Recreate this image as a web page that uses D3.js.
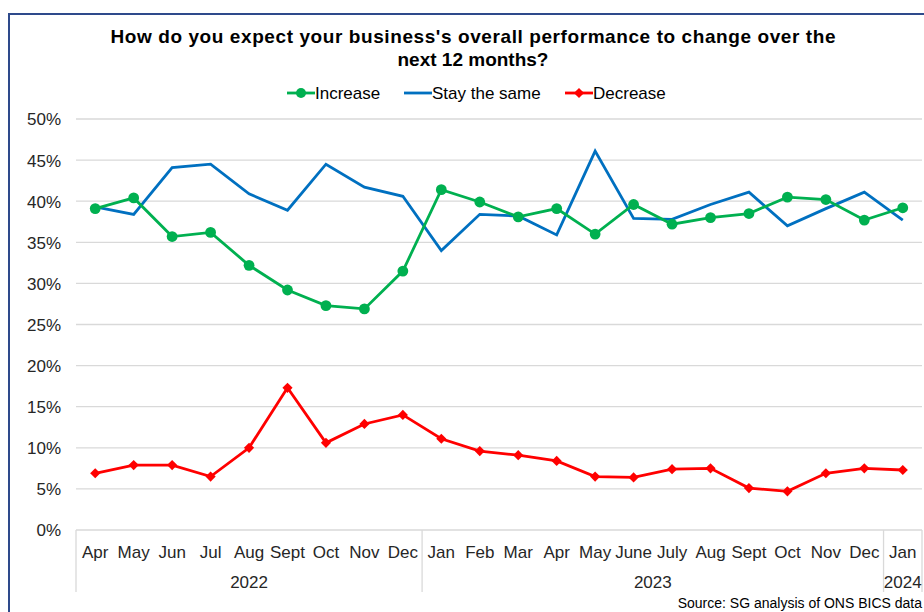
<!DOCTYPE html>
<html>
<head>
<meta charset="utf-8">
<script src="https://cdn.jsdelivr.net/npm/d3@7"></script>
<style>
  html, body { margin: 0; padding: 0; background: #fff; }
  svg { display: block; font-family: "Liberation Sans", Arial, sans-serif; }
</style>
</head>
<body>
<svg id="chart" width="924" height="612"></svg>
<script>
// Survey months (two-level axis: month within year)
const months = ["Apr","May","Jun","Jul","Aug","Sept","Oct","Nov","Dec",
                "Jan","Feb","Mar","Apr","May","June","July","Aug","Sept","Oct","Nov","Dec",
                "Jan"];
const years = [
  { label: "2022", start: 0, end: 9 },
  { label: "2023", start: 9, end: 21 },
  { label: "2024", start: 21, end: 22 }
];

// Share of businesses (%) by expectation
const increase = [39.1, 40.4, 35.7, 36.2, 32.2, 29.2, 27.3, 26.9, 31.5,
                  41.4, 39.9, 38.1, 39.1, 36.0, 39.6, 37.2, 38.0, 38.5, 40.5, 40.2, 37.7,
                  39.2];
const stayTheSame = [39.3, 38.4, 44.1, 44.5, 40.9, 38.9, 44.5, 41.7, 40.6,
                     34.0, 38.4, 38.2, 35.9, 46.1, 37.9, 37.8, 39.6, 41.1, 37.0, 39.1, 41.1,
                     37.7];
const decrease = [6.9, 7.9, 7.9, 6.5, 10.0, 17.3, 10.6, 12.9, 14.0,
                  11.1, 9.6, 9.1, 8.4, 6.5, 6.4, 7.4, 7.5, 5.1, 4.7, 6.9, 7.5,
                  7.3];

const yTicks = [0, 5, 10, 15, 20, 25, 30, 35, 40, 45, 50];

const title = ["How do you expect your business's overall performance to change over the",
               "next 12 months?"];
const sourceNote = "Source: SG analysis of ONS BICS data";

const colors = { increase: "#00B050", same: "#0070C0", decrease: "#FF0000" };
const labelFont = 17;

const svg = d3.select("#chart");
const W = 924, H = 612;
const plot = { left: 76, right: 922, top: 119, bottom: 530 };

// Outer frame (left and top edges visible, continues off the right/bottom)
svg.append("path")
  .attr("d", `M9,${H + 2} L9,14 L${W + 2},14`)
  .attr("fill", "none")
  .attr("stroke", "#2E4A8B")
  .attr("stroke-width", 2);

// Title
const tt = svg.append("g").selectAll("text")
  .data(title).join("text")
  .attr("x", 473)
  .attr("y", (d, i) => 43 + i * 23)
  .attr("text-anchor", "middle")
  .attr("font-size", 19)
  .attr("font-weight", "bold")
  .attr("fill", "#000")
  .text(d => d);
tt.filter((d, i) => i === 0)
  .attr("textLength", 725)
  .attr("lengthAdjust", "spacing");

// Scales
const idx = d3.range(months.length);
const x = d3.scaleBand().domain(idx).range([plot.left, plot.right]).padding(0);
const cx = i => x(i) + x.bandwidth() / 2;
const y = d3.scaleLinear().domain([0, 50]).range([plot.bottom, plot.top]);

// Horizontal gridlines
svg.append("g")
  .selectAll("line")
  .data(yTicks.filter(t => t > 0)).join("line")
  .attr("x1", plot.left).attr("x2", plot.right)
  .attr("y1", d => y(d)).attr("y2", d => y(d))
  .attr("stroke", "#D9D9D9").attr("stroke-width", 1.3);

// Y axis labels
const yAxis = d3.axisLeft(y).tickValues(yTicks).tickFormat(d => d + "%").tickSize(0).tickPadding(0);
const yg = svg.append("g").attr("transform", `translate(${plot.left - 15},0)`).call(yAxis);
yg.select(".domain").remove();
yg.selectAll("text")
  .attr("font-size", labelFont)
  .attr("font-family", "'Liberation Sans', Arial, sans-serif")
  .attr("fill", "#262626")
  .attr("dy", "0.35em");

// X axis baseline
svg.append("line")
  .attr("x1", plot.left).attr("x2", plot.right)
  .attr("y1", plot.bottom).attr("y2", plot.bottom)
  .attr("stroke", "#D9D9D9").attr("stroke-width", 1.3);

// Month labels
const xAxis = d3.axisBottom(x).tickFormat(i => months[i]).tickSize(0).tickPadding(0);
const xg = svg.append("g").attr("transform", `translate(0,${plot.bottom})`).call(xAxis);
xg.select(".domain").remove();
xg.selectAll("text")
  .attr("y", 28)
  .attr("dy", 0)
  .attr("font-size", labelFont)
  .attr("font-family", "'Liberation Sans', Arial, sans-serif")
  .attr("fill", "#262626");

// Year group separators and labels
const sepIdx = [0, 9, 21, 22];
svg.append("g").selectAll("line")
  .data(sepIdx).join("line")
  .attr("x1", i => i < months.length ? x(i) : plot.right)
  .attr("x2", i => i < months.length ? x(i) : plot.right)
  .attr("y1", plot.bottom).attr("y2", 592)
  .attr("stroke", "#D9D9D9").attr("stroke-width", 1.3);

svg.append("g").selectAll("text")
  .data(years).join("text")
  .attr("x", d => (x(d.start) + (d.end < months.length ? x(d.end) : plot.right)) / 2)
  .attr("y", 588)
  .attr("text-anchor", "middle")
  .attr("font-size", labelFont)
  .attr("fill", "#262626")
  .text(d => d.label);

// Lines
const line = d3.line().x((d, i) => cx(i)).y(d => y(d));

svg.append("path").datum(stayTheSame)
  .attr("d", line).attr("fill", "none")
  .attr("stroke", colors.same).attr("stroke-width", 2.8).attr("stroke-linejoin", "miter");

svg.append("path").datum(increase)
  .attr("d", line).attr("fill", "none")
  .attr("stroke", colors.increase).attr("stroke-width", 2.8);

svg.append("g").selectAll("circle")
  .data(increase).join("circle")
  .attr("cx", (d, i) => cx(i)).attr("cy", d => y(d))
  .attr("r", 5.4).attr("fill", colors.increase);

svg.append("path").datum(decrease)
  .attr("d", line).attr("fill", "none")
  .attr("stroke", colors.decrease).attr("stroke-width", 2.8);

const diamond = d3.symbol().type(d3.symbolDiamond2).size(66);
svg.append("g").selectAll("path")
  .data(decrease).join("path")
  .attr("transform", (d, i) => `translate(${cx(i)},${y(d)})`)
  .attr("d", diamond).attr("fill", colors.decrease);

// Legend
const legend = [
  { label: "Increase", color: colors.increase, marker: "circle", x0: 287 },
  { label: "Stay the same", color: colors.same, marker: null, x0: 404 },
  { label: "Decrease", color: colors.decrease, marker: "diamond", x0: 565 }
];
const lg = svg.append("g").selectAll("g").data(legend).join("g")
  .attr("transform", d => `translate(${d.x0},93)`);
lg.append("line").attr("x1", 0).attr("x2", 28).attr("y1", 0).attr("y2", 0)
  .attr("stroke", d => d.color).attr("stroke-width", 2.8);
lg.filter(d => d.marker === "circle").append("circle")
  .attr("cx", 14).attr("cy", 0).attr("r", 5).attr("fill", d => d.color);
lg.filter(d => d.marker === "diamond").append("path")
  .attr("transform", "translate(14,0)").attr("d", diamond).attr("fill", d => d.color);
lg.append("text").attr("x", 28).attr("y", 0).attr("dy", "0.35em")
  .attr("font-size", labelFont).attr("fill", "#000").text(d => d.label);

// Source note, right-aligned at the page edge
svg.append("text")
  .attr("x", W - 2).attr("y", 608)
  .attr("text-anchor", "end")
  .attr("font-size", 14).attr("fill", "#000")
  .text(sourceNote);
</script>
</body>
</html>
